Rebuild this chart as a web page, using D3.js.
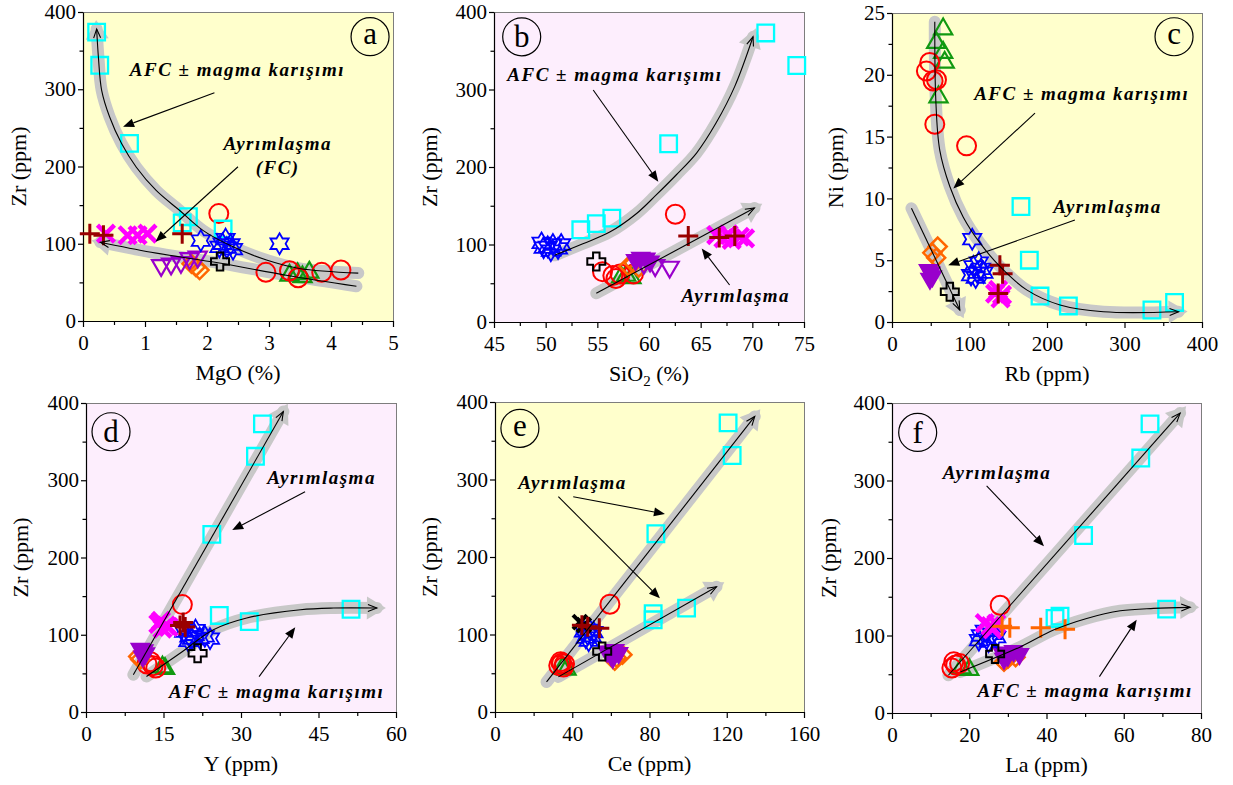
<!DOCTYPE html>
<html>
<head>
<meta charset="utf-8">
<script src="https://cdn.jsdelivr.net/npm/d3@7"></script>
</head>
<body style="margin:0;background:#fff">
<svg id="fig" width="1233" height="785"></svg>
<script>
// ---------- tick values ----------
const ticksZr   = [0, 100, 200, 300, 400];
const ticksNi   = [0, 5, 10, 15, 20, 25];
const ticksMgO  = [0, 1, 2, 3, 4, 5];
const ticksSiO2 = [45, 50, 55, 60, 65, 70, 75];
const ticksRb   = [0, 100, 200, 300, 400];
const ticksY    = [0, 15, 30, 45, 60];
const ticksCe   = [0, 40, 80, 120, 160];
const ticksLa   = [0, 20, 40, 60, 80];

// ---------- samples: [group, x, y] ----------
// groups: sq cyan square, ci red circle, tr green triangle, st blue hexagram,
// dtf/dto purple down-triangle (filled/open), di orange diamond, cr black cross,
// pl dark-red plus, x magenta cross, plo orange plus, xk black cross
const samplesA = [
  ["sq",0.22,374],["sq",0.27,331],["sq",0.75,230],["sq",1.6,127],["sq",1.7,135],["sq",2.26,119],
  ["tr",3.33,59],["tr",3.46,61],["tr",3.65,63],["tr",3.54,57],
  ["ci",2.19,139],["ci",2.95,63],["ci",3.33,65],["ci",3.47,56],["ci",3.85,63],["ci",4.16,66],
  ["dto",1.26,72],["dto",1.42,74],["dto",1.58,76],["dto",1.72,81],["dto",1.85,83],
  ["di",1.75,74],["di",1.82,70],["di",1.88,66],
  ["st",1.9,104],["st",3.17,100],["st",2.25,100],["st",2.32,95],["st",2.38,99],["st",2.42,93],["st",2.3,106],["st",2.2,96],
  ["x",0.37,113],["x",0.72,111],["x",0.88,111],["x",1.04,113],
  ["pl",0.11,113],["pl",0.33,111],["pl",1.6,113],
  ["cr",2.21,77]
];
const samplesB = [
  ["sq",71.3,373],["sq",74.3,331],["sq",61.9,230],["sq",53.4,119],["sq",54.9,127],["sq",56.4,134],
  ["st",49.6,102],["st",50.2,97],["st",50.7,100],["st",51.2,95],["st",50.5,92],["st",51.5,100],["st",49.8,96],
  ["tr",57.3,58],["tr",57.8,60],["tr",58.3,57],
  ["di",58,72],["di",58.5,76],["di",59,70],
  ["ci",62.55,139],["ci",55.5,65],["ci",56.5,60],["ci",56.8,56],["ci",57.2,62],["ci",58.5,62],
  ["dtf",58.7,80],["dtf",59.2,83],["dtf",59.7,82],["dtf",60.1,78],
  ["dto",59.5,76],["dto",60.6,73],["dto",62,71],
  ["x",66.5,112],["x",67.2,108],["x",67.7,113],["x",68,106],["x",68.8,110],["x",69.3,108],
  ["pl",63.8,111],["pl",66.8,109],["pl",68.3,111],
  ["cr",54.9,78]
];
const samplesC = [
  ["tr",66,23.7],["tr",57,22.6],["tr",66,21.8],["tr",68,21.0],["tr",60,18.2],
  ["ci",48.7,21.0],["ci",44.4,20.3],["ci",53,19.5],["ci",57.4,19.6],["ci",55.2,16.0],["ci",96.2,14.25],
  ["sq",166.4,9.34],["sq",177.2,5.0],["sq",191,2.1],["sq",227.6,1.3],["sq",335.4,0.97],["sq",364.6,1.58],
  ["st",103.5,6.7],["st",105,4.5],["st",110,4.0],["st",115,4.3],["st",108,3.6],["st",118,4.0],["st",112,4.8],["st",102,3.8],
  ["di",59,6.1],["di",52,5.6],["di",57,5.2],
  ["dtf",47,4.2],["dtf",50,4.0],["dtf",52,3.7],["dtf",49,3.5],
  ["x",133,2.3],["x",140,1.9],["x",137,2.6],["x",142,2.2],
  ["pl",139.2,4.6],["pl",142.7,3.9],["pl",137,2.3],
  ["cr",74.6,2.45]
];
const samplesD = [
  ["sq",34.15,373],["sq",32.8,331],["sq",24.35,230],["sq",25.8,125],["sq",31.6,117],["sq",51.3,133],
  ["di",10.1,72],["di",10.5,68],
  ["dtf",10.5,82],["dtf",11.2,80],["dtf",11.5,76],["dtf",11,72],
  ["tr",14.8,58],["tr",15.3,56],
  ["ci",18.65,139],["ci",11.8,62],["ci",12.5,65],["ci",13.5,57],["ci",13,60],
  ["x",14.0,114],["x",14.8,108],["x",15.5,112],["x",14.5,118],["x",16,110],
  ["pl",18.2,112],["pl",19.2,110],["pl",18.8,116],
  ["st",19,104],["st",20,98],["st",21,100],["st",22,96],["st",23,98],["st",24,95],["st",19.8,92],["st",21.2,106],["st",20.5,95],
  ["cr",21.6,76]
];
const samplesE = [
  ["sq",120.7,373],["sq",122.8,331],["sq",83.3,230],["sq",81.9,127],["sq",81.9,119],["sq",99.2,134],
  ["tr",35,57],["tr",37,55],
  ["ci",59.5,139],["ci",33,60],["ci",34.5,63],["ci",35.5,58],["ci",36,62],["ci",34,65],
  ["di",63,70],["di",66,74],["di",62,66],
  ["dtf",58,78],["dtf",60,74],["dtf",62,80],["dtf",64,76],["dtf",61,70],
  ["xk",44,116],["xk",46,112],
  ["pl",45,112],["pl",48,110],["pl",54,108],
  ["st",46,104],["st",48,100],["st",50,98],["st",47,96],["st",49,106],["st",51,103],["st",48.5,92],
  ["cr",55.5,78]
];
const samplesF = [
  ["sq",66.8,373],["sq",64.4,329],["sq",49.6,229],["sq",42.2,122],["sq",43.5,125],["sq",71.1,134],
  ["tr",18,58],["tr",20,56],
  ["ci",28,139],["ci",15.5,58],["ci",16.5,62],["ci",17.5,64],["ci",16,66],
  ["di",30,70],["di",32,72],["di",29,66],
  ["dtf",28.5,78],["dtf",30,74],["dtf",31.5,80],["dtf",33,76],["dtf",29,70],
  ["x",24,116],["x",25.5,112],["x",27,115],["x",26,108],
  ["plo",28.5,112],["plo",30.5,110],["plo",38.5,110],["plo",44.8,108],
  ["st",23,100],["st",24.5,96],["st",26,102],["st",25,92],["st",27,98],["st",24,106],["st",22.5,94],
  ["cr",26.7,76]
];

// ---------- trend paths (start -> arrow tip) ----------
const trendA_afc = [[4.44,62],[3.49,68],[2.96,79],[2.42,96],[1.94,117],[1.56,143],[1.18,169],[0.86,199],[0.62,230],[0.43,264],[0.30,299],[0.25,340],[0.22,378]];
const trendA_fc  = [[4.41,45],[3.3,59],[2.2,75],[1.1,89],[0.28,102]];
const trendB_afc = [[50.87,86],[53.6,101],[56.2,116],[58.8,140],[60.7,164],[62.65,190],[64.6,218],[66.5,257],[68.3,304],[70.07,368]];
const trendB_fc  = [[54.9,37],[70.2,147]];
const trendC_afc = [[55.2,24.3],[56.5,18],[61.6,13.9],[74.6,10.96],[91.8,8.5],[113.4,6.4],[139.2,4.5],[173.8,2.6],[216.8,1.38],[272.8,0.83],[369.8,0.83]];
const trendC_fc  = [[25.1,9.2],[87.5,0.97]];
const trendD_fc  = [[9.16,48.3],[38.2,389]];
const trendD_afc = [[11.7,46],[18.2,76],[24.66,106.5],[31.1,121.7],[41.5,132.4],[47.9,134.6],[56.3,134.6]];
const trendE_up  = [[26.7,38.8],[134.5,381.4]];
const trendE_low = [[32.8,45.3],[114.7,161.6]];
const trendF_fc  = [[14.6,48.7],[74.6,387]];
const trendF_afc = [[17.7,53],[33.2,85.3],[41.8,107],[50.4,122],[59.1,131.9],[67.7,135],[77.2,136.3]];

// ---------- annotation labels (data units) ----------
const AFC = "AFC ± magma karışımı";
const FC  = "Ayrımlaşma";
const notesA = [
  {lines:[AFC], at:[2.49,317], arrows:[[[2.12,295.5],[0.646,251.5]]]},
  {lines:[FC,"(FC)"], at:[3.14,222], arrows:[[[2.5,199.7],[1.17,102.7]]]}
];
const notesB = [
  {lines:[AFC], at:[56.7,311], arrows:[[[54.6,299.4],[60.9,181]]]},
  {lines:[FC], at:[68.4,26], arrows:[[[67.8,47.7],[65.1,95]]]}
];
const notesC = [
  {lines:[AFC], at:[244.8,17.96], arrows:[[[184.5,16.9],[79.1,10.8]]]},
  {lines:[FC], at:[278,8.8], arrows:[[[236,8.25],[72.6,4.6]]]}
];
const notesD = [
  {lines:[FC], at:[45.6,295], arrows:[[[42.4,285],[28.3,235.6]]]},
  {lines:[AFC], at:[36.9,17.7], arrows:[[[33.5,45.7],[40.5,109.6]]]}
];
const notesE = [
  {lines:[FC], at:[40.1,287.7], arrows:[[[40.5,277.8],[88.0,255.5]],[[32.8,277.8],[85.4,146.7]]]}
];
const notesF = [
  {lines:[FC], at:[27.2,302.5], arrows:[[[24.5,293],[39.35,215.3]]]},
  {lines:[AFC], at:[50.0,21.1], arrows:[[[53.7,47],[63.35,120.4]]]}
];

// ---------- panel layout ----------
const YELLOW = "#FFFFCC", PINK = "#FDEEFD";
const panels = [
  {key:"a", rect:[83,12,393,321],  bg:YELLOW, xd:[0,5],    xt:ticksMgO,  yd:[0,400], yt:ticksZr,
   xTitle:[["MgO (%)"]], yTitle:"Zr (ppm)", yOff:65, samples:samplesA, trends:[trendA_afc,trendA_fc], notes:notesA, badge:[4.63,368]},
  {key:"b", rect:[494,12,804,322], bg:PINK,   xd:[45,75],  xt:ticksSiO2, yd:[0,400], yt:ticksZr,
   xTitle:[["SiO"],["2","sub"],[" (%)"]], yTitle:"Zr (ppm)", yOff:65, samples:samplesB, trends:[trendB_afc,trendB_fc], notes:notesB, badge:[47.68,368]},
  {key:"c", rect:[892,13,1202,322], bg:YELLOW, xd:[0,400], xt:ticksRb,   yd:[0,25],  yt:ticksNi,
   xTitle:[["Rb (ppm)"]], yTitle:"Ni (ppm)", yOff:57, samples:samplesC, trends:[trendC_afc,trendC_fc], notes:notesC, badge:[363.9,23.08]},
  {key:"d", rect:[86,403,396,712], bg:PINK,   xd:[0,60],   xt:ticksY,    yd:[0,400], yt:ticksZr,
   xTitle:[["Y (ppm)"]], yTitle:"Zr (ppm)", yOff:66, samples:samplesD, trends:[trendD_fc,trendD_afc], notes:notesD, badge:[4.84,362.8]},
  {key:"e", rect:[495,402,804,712], bg:YELLOW, xd:[0,160], xt:ticksCe,   yd:[0,400], yt:ticksZr,
   xTitle:[["Ce (ppm)"]], yTitle:"Zr (ppm)", yOff:66, samples:samplesE, trends:[trendE_up,trendE_low], notes:notesE, badge:[12.9,366]},
  {key:"f", rect:[892,403,1201,713], bg:PINK, xd:[0,80],   xt:ticksLa,   yd:[0,400], yt:ticksZr,
   xTitle:[["La (ppm)"]], yTitle:"Zr (ppm)", yOff:64, samples:samplesF, trends:[trendF_fc,trendF_afc], notes:notesF, badge:[6.65,362]}
];

// ---------- marker shapes ----------
const shapes = {
  square: s => `M${-s},${-s}H${s}V${s}H${-s}Z`,
  circle: s => `M${s},0A${s},${s} 0 1,1 ${-s},0A${s},${s} 0 1,1 ${s},0Z`,
  triUp: s => `M0,${-s}L${s*0.866},${s*0.5}L${-s*0.866},${s*0.5}Z`,
  triDown: s => `M0,${s}L${s*0.866},${-s*0.5}L${-s*0.866},${-s*0.5}Z`,
  diamond: s => `M0,${-s}L${s},0L0,${s}L${-s},0Z`,
  hexagram: s => {
    const pts = d3.range(12).map(k => {
      const a = -Math.PI/2 + k*Math.PI/6, r = k % 2 ? s/Math.sqrt(3) : s;
      return [r*Math.cos(a), r*Math.sin(a)];
    });
    return "M" + pts.map(p => p[0].toFixed(2)+","+p[1].toFixed(2)).join("L") + "Z";
  },
  crossOutline: s => { const a = s*0.36;
    return `M${-a},${-s}H${a}V${-a}H${s}V${a}H${a}V${s}H${-a}V${a}H${-s}V${-a}H${-a}Z`; },
  plus: s => `M${-s},0H${s}M0,${-s}V${s}`,
  xmark: s => `M${-s},${-s}L${s},${s}M${s},${-s}L${-s},${s}`
};
const groupStyle = {
  sq:  {shape:"square",       size:8.3,  stroke:"#00FFFF", fill:"none",    w:2.3},
  ci:  {shape:"circle",       size:9.5,  stroke:"#FF0000", fill:"none",    w:2},
  tr:  {shape:"triUp",        size:10.5, stroke:"#119911", fill:"none",    w:2.2},
  st:  {shape:"hexagram",     size:10.5, stroke:"#0000FF", fill:"none",    w:1.8},
  dtf: {shape:"triDown",      size:10.5, stroke:"#9900CC", fill:"#9900CC", w:1.5},
  dto: {shape:"triDown",      size:10.5, stroke:"#9900CC", fill:"none",    w:2.2},
  di:  {shape:"diamond",      size:9,    stroke:"#FF6600", fill:"none",    w:2.5},
  cr:  {shape:"crossOutline", size:9,    stroke:"#000000", fill:"none",    w:2},
  pl:  {shape:"plus",         size:10,   stroke:"#990000", fill:"none",    w:3},
  x:   {shape:"xmark",        size:8.5,  stroke:"#FF00FF", fill:"none",    w:4.5},
  plo: {shape:"plus",         size:10,   stroke:"#FF6600", fill:"none",    w:3},
  xk:  {shape:"xmark",        size:7,    stroke:"#000000", fill:"none",    w:4}
};

const FONT = "Liberation Serif";
const svg = d3.select("#fig").style("font-family", FONT);

function unitDir(node) {
  const L = node.getTotalLength();
  const e = node.getPointAtLength(L), b = node.getPointAtLength(Math.max(0, L - 8));
  let ux = e.x - b.x, uy = e.y - b.y; const n = Math.hypot(ux, uy) || 1;
  return {e, ux: ux/n, uy: uy/n};
}

panels.forEach(p => {
  const [x0, y0, x1, y1] = p.rect;
  const x = d3.scaleLinear().domain(p.xd).range([x0, x1]);
  const y = d3.scaleLinear().domain(p.yd).range([y1, y0]);
  const g = svg.append("g").attr("class", "panel-" + p.key);

  // plot area
  g.append("rect").attr("x", x0).attr("y", y0).attr("width", x1 - x0).attr("height", y1 - y0).attr("fill", p.bg);
  g.append("path").attr("d", `M${x0},${y0}H${x1}V${y1}`).attr("fill", "none")
    .attr("stroke", "#7d7d7d").attr("stroke-width", 1).attr("shape-rendering", "crispEdges");

  // axes: major + minor ticks
  const fmt = d3.format("~g");
  const minorX = d3.pairs(p.xt).map(([a, b]) => (a + b) / 2);
  const minorY = d3.pairs(p.yt).map(([a, b]) => (a + b) / 2);
  const gx = g.append("g").attr("transform", `translate(0,${y1})`)
    .call(d3.axisBottom(x).tickValues(p.xt).tickFormat(fmt).tickSize(6).tickSizeOuter(0).tickPadding(8));
  g.append("g").attr("transform", `translate(0,${y1})`)
    .call(d3.axisBottom(x).tickValues(minorX).tickSize(4).tickFormat("")).select(".domain").remove();
  const gy = g.append("g").attr("transform", `translate(${x0},0)`)
    .call(d3.axisLeft(y).tickValues(p.yt).tickFormat(fmt).tickSize(5).tickSizeOuter(0).tickPadding(2));
  g.append("g").attr("transform", `translate(${x0},0)`)
    .call(d3.axisLeft(y).tickValues(minorY).tickSize(3.5).tickFormat("")).select(".domain").remove();
  g.selectAll(".domain, .tick line").attr("stroke", "#000").attr("stroke-width", 1.2);
  [gx, gy].forEach(a => a.selectAll("text").style("font-family", FONT).style("font-size", "21px").attr("fill", "#000"));

  // axis titles
  const xt = g.append("text").attr("x", (x0 + x1) / 2).attr("y", y1 + 59)
    .attr("text-anchor", "middle").style("font-family", FONT).style("font-size", "22px");
  p.xTitle.forEach(([t, mode], i) => {
    const ts = xt.append("tspan").text(t);
    if (mode === "sub") ts.style("font-size", "15px").attr("dy", 5);
    else if (i > 0 && p.xTitle[i-1][1] === "sub") ts.attr("dy", -5);
  });
  g.append("text").attr("transform", `translate(${x0 - p.yOff},${(y0 + y1) / 2}) rotate(-90)`)
    .attr("text-anchor", "middle").attr("dy", "0.35em").style("font-family", FONT).style("font-size", "22px").text(p.yTitle);

  const line = d3.line().x(d => x(d[0])).y(d => y(d[1])).curve(d3.curveCatmullRom.alpha(0.5));

  // grey trend bands with broad arrowheads
  p.trends.forEach(t => {
    const band = g.append("path").attr("d", line(t)).attr("fill", "none")
      .attr("stroke", "#c8c8c8").attr("stroke-width", 12).attr("stroke-linecap", "round");
    const {e, ux, uy} = unitDir(band.node());
    const nx = -uy, ny = ux, tip = [e.x + ux*9, e.y + uy*9], base = [e.x - ux*10, e.y - uy*10];
    g.append("path").attr("fill", "#c8c8c8")
      .attr("d", `M${tip}L${base[0] + nx*11.5},${base[1] + ny*11.5}L${base[0] - nx*11.5},${base[1] - ny*11.5}Z`);
  });

  // samples
  const order = ["tr","ci","sq","di","dto","dtf","st","x","xk","pl","plo","cr"];
  const sorted = p.samples.slice().sort((a, b) => order.indexOf(a[0]) - order.indexOf(b[0]));
  g.append("g").selectAll("path").data(sorted).join("path")
    .attr("transform", d => `translate(${x(d[1])},${y(d[2])})`)
    .attr("d", d => shapes[groupStyle[d[0]].shape](groupStyle[d[0]].size))
    .attr("fill", d => groupStyle[d[0]].fill)
    .attr("stroke", d => groupStyle[d[0]].stroke)
    .attr("stroke-width", d => groupStyle[d[0]].w)
    .attr("stroke-linejoin", "miter");

  // thin black trend lines with open arrowheads
  p.trends.forEach(t => {
    const ln = g.append("path").attr("d", line(t)).attr("fill", "none").attr("stroke", "#000").attr("stroke-width", 1.1);
    const {e, ux, uy} = unitDir(ln.node());
    const nx = -uy, ny = ux, bx = e.x - ux*9, by = e.y - uy*9;
    g.append("path").attr("fill", "none").attr("stroke", "#000").attr("stroke-width", 1.1)
      .attr("d", `M${bx + nx*3.5},${by + ny*3.5}L${e.x},${e.y}L${bx - nx*3.5},${by - ny*3.5}`);
  });

  // annotations
  p.notes.forEach(n => {
    const tx = g.append("text").attr("x", x(n.at[0])).attr("y", y(n.at[1]))
      .attr("text-anchor", "middle").style("font-family", FONT).style("font-size", "19px")
      .style("font-weight", "bold").style("font-style", "italic").style("letter-spacing", "1.5px");
    n.lines.forEach((l, i) => tx.append("tspan").attr("x", x(n.at[0])).attr("dy", i ? 24 : 0).text(l));
    n.arrows.forEach(([s, t]) => {
      const sx = x(s[0]), sy = y(s[1]), ex = x(t[0]), ey = y(t[1]);
      let ux = ex - sx, uy = ey - sy; const L = Math.hypot(ux, uy); ux /= L; uy /= L;
      const nx = -uy, ny = ux, bx = ex - ux*11, by = ey - uy*11;
      g.append("line").attr("x1", sx).attr("y1", sy).attr("x2", bx).attr("y2", by)
        .attr("stroke", "#000").attr("stroke-width", 1.1);
      g.append("path").attr("fill", "#000")
        .attr("d", `M${ex},${ey}L${bx + nx*4.5},${by + ny*4.5}L${bx - nx*4.5},${by - ny*4.5}Z`);
    });
  });

  // panel letter
  const cx = x(p.badge[0]), cy = y(p.badge[1]);
  g.append("circle").attr("cx", cx).attr("cy", cy).attr("r", 19).attr("fill", "none").attr("stroke", "#000").attr("stroke-width", 1.2);
  const tall = "bdf".includes(p.key);
  g.append("text").attr("x", cx).attr("y", cy + (tall ? 10.5 : 7.5)).attr("text-anchor", "middle")
    .style("font-family", FONT).style("font-size", "31px").text(p.key);
});
</script>
</body>
</html>
